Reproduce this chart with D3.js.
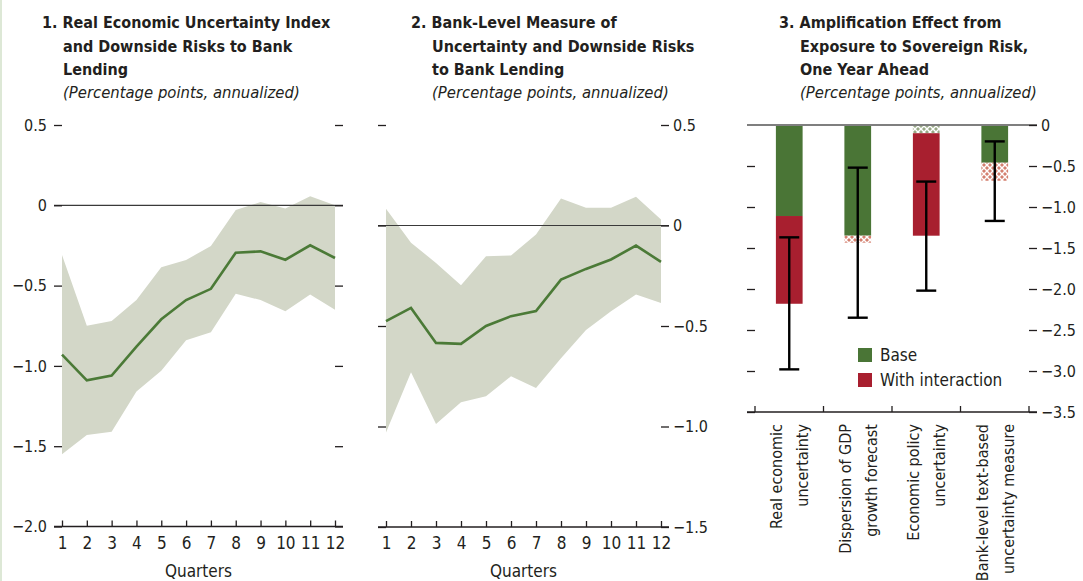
<!DOCTYPE html>
<html lang="en">
  <head>
    <meta charset="UTF-8" />
    <title>Uncertainty and bank lending</title>
    <style>
      body { margin: 0; background: #fff; }
      svg text { font-family: "Liberation Sans Narrow", "DejaVu Sans Condensed", sans-serif; fill: #231f20; }
      .title { font-weight: bold; font-size: 16px; }
      .sub { font-style: italic; font-size: 16.5px; }
      .tick text { font-size: 16px; }
      .xax .tick text { font-size: 17px; }
      .tick line { stroke: #231f20; stroke-width: 1.3; }
    </style>
  </head>
  <body>
    <svg id="chart" width="1083" height="581"></svg>
  </body>
</html>

<script src="https://cdnjs.cloudflare.com/ajax/libs/d3/7.8.5/d3.min.js"></script>

<script>
  // quarters after the shock
  const quarters = [1, 2, 3, 4, 5, 6, 7, 8, 9, 10, 11, 12];

  // panel 1: real economic uncertainty index
  const p1Line = [-0.93, -1.09, -1.06, -0.88, -0.71, -0.59, -0.52, -0.295, -0.287, -0.339, -0.249, -0.328];
  const p1Upper = [-0.31, -0.75, -0.72, -0.59, -0.385, -0.34, -0.254, -0.03, 0.02, -0.02, 0.056, 0.0];
  const p1Lower = [-1.55, -1.43, -1.41, -1.16, -1.03, -0.84, -0.79, -0.55, -0.59, -0.66, -0.555, -0.65];
  const p1Ticks = [0.5, 0, -0.5, -1.0, -1.5, -2.0];

  // panel 2: bank-level measure of uncertainty
  const p2Line = [-0.476, -0.41, -0.584, -0.589, -0.5, -0.451, -0.426, -0.269, -0.216, -0.169, -0.1, -0.181];
  const p2Upper = [0.083, -0.086, -0.186, -0.297, -0.153, -0.149, -0.045, 0.134, 0.088, 0.088, 0.143, 0.03];
  const p2Lower = [-1.03, -0.73, -0.987, -0.879, -0.849, -0.75, -0.808, -0.66, -0.52, -0.426, -0.343, -0.385];
  const p2Ticks = [0.5, 0, -0.5, -1.0, -1.5];

  // panel 3: amplification effect
  const measures = [
    ["Real economic", "uncertainty"],
    ["Dispersion of GDP", "growth forecast"],
    ["Economic policy", "uncertainty"],
    ["Bank-level text-based", "uncertainty measure"],
  ];
  const baseVals = [-1.11, -1.35, -0.1, -0.46];
  const interactionVals = [-2.18, -1.435, -1.35, -0.68];
  const baseSignif = [true, true, false, true];
  const interactionSignif = [true, false, true, false];
  const errLow = [-2.98, -2.35, -2.02, -1.17];
  const errHigh = [-1.37, -0.52, -0.69, -0.2];
  const p3Ticks = [0, -0.5, -1.0, -1.5, -2.0, -2.5, -3.0, -3.5];

  const GREEN = "#4a7536",
    RED = "#a81f2f",
    BAND = "#d3d7c8",
    LINE = "#4b7a37";

  const svg = d3.select("#chart");
  const fmt = (d) => (d === 0 ? "0" : d3.format(".1f")(d));

  // faint page border on the left
  svg.append("rect").attr("x", 0).attr("y", 0).attr("width", 2).attr("height", 581).attr("fill", "#dde8d6");

  // hatch patterns for the non-significant parts
  const defs = svg.append("defs");
  function hatch(id, color) {
    const p = defs
      .append("pattern")
      .attr("id", id)
      .attr("patternUnits", "userSpaceOnUse")
      .attr("width", 6)
      .attr("height", 6);
    p.append("rect").attr("width", 6).attr("height", 6).attr("fill", color);
    p.append("path")
      .attr("d", "M-1,-1 L7,7 M7,-1 L-1,7")
      .attr("stroke", "#fff")
      .attr("stroke-width", 1.4);
  }
  hatch("hatchRed", "#d4806f");
  hatch("hatchGreen", "#98a986");

  function title(x, indent, lines, sub) {
    const g = svg.append("g");
    lines.forEach((t, i) => {
      g.append("text")
        .attr("class", "title")
        .attr("x", i === 0 ? x : x + indent)
        .attr("y", 28 + i * 23.5)
        .text(t);
    });
    g.append("text").attr("class", "sub").attr("x", x + indent).attr("y", 98).text(sub);
  }

  title(42, 21, ["1. Real Economic Uncertainty Index", "and Downside Risks to Bank", "Lending"], "(Percentage points, annualized)");
  title(411, 21, ["2. Bank-Level Measure of", "Uncertainty and Downside Risks", "to Bank Lending"], "(Percentage points, annualized)");
  title(779, 21, ["3. Amplification Effect from", "Exposure to Sovereign Risk,", "One Year Ahead"], "(Percentage points, annualized)");

  // line panels
  function linePanel({ xRange, yDomain, yRange, ticks, line, upper, lower, labelsRight }) {
    const x = d3.scaleLinear().domain([1, 12]).range(xRange);
    const y = d3.scaleLinear().domain(yDomain).range(yRange);
    const g = svg.append("g");

    const rows = quarters.map((q, i) => ({ q, v: line[i], hi: upper[i], lo: lower[i] }));

    g.append("path")
      .datum(rows)
      .attr("fill", BAND)
      .attr("d", d3.area().x((d) => x(d.q)).y0((d) => y(d.lo)).y1((d) => y(d.hi)));

    // zero line
    g.append("line")
      .attr("x1", x.range()[0] - 8)
      .attr("x2", x.range()[1] + 8)
      .attr("y1", y(0))
      .attr("y2", y(0))
      .attr("stroke", "#3a3a3a")
      .attr("stroke-width", 1.2);

    g.append("path")
      .datum(rows)
      .attr("fill", "none")
      .attr("stroke", LINE)
      .attr("stroke-width", 2.6)
      .attr("d", d3.line().x((d) => x(d.q)).y((d) => y(d.v)));

    const left = d3.axisLeft(y).tickValues(ticks).tickSize(8).tickPadding(7).tickFormat(labelsRight ? "" : fmt);
    const right = d3.axisRight(y).tickValues(ticks).tickSize(8).tickPadding(4).tickFormat(labelsRight ? fmt : "");

    g.append("g").attr("transform", `translate(${x.range()[0]},0)`).call(left).call((a) => a.select(".domain").remove());
    g.append("g").attr("transform", `translate(${x.range()[1]},0)`).call(right).call((a) => a.select(".domain").remove());

    const bottom = d3.axisBottom(x).tickValues(quarters).tickSizeInner(-6).tickSizeOuter(0).tickPadding(10);
    const b = g.append("g").attr("class", "xax").attr("transform", `translate(0,${y(yDomain[0])})`).call(bottom);
    b.select(".domain").remove();
    b.append("line")
      .attr("x1", x.range()[0] - 8)
      .attr("x2", x.range()[1] + 8)
      .attr("stroke", "#231f20")
      .attr("stroke-width", 1.3);

    g.append("text")
      .attr("x", (x.range()[0] + x.range()[1]) / 2)
      .attr("y", 577)
      .attr("text-anchor", "middle")
      .style("font-size", "17px")
      .text("Quarters");
  }

  linePanel({
    xRange: [62, 335],
    yDomain: [-2, 0.5],
    yRange: [526.5, 125],
    ticks: p1Ticks,
    line: p1Line,
    upper: p1Upper,
    lower: p1Lower,
    labelsRight: false,
  });

  linePanel({
    xRange: [386, 661],
    yDomain: [-1.5, 0.5],
    yRange: [527, 125],
    ticks: p2Ticks,
    line: p2Line,
    upper: p2Upper,
    lower: p2Lower,
    labelsRight: true,
  });

  // bar panel
  (function () {
    const idx = measures.map((d, i) => i);
    const x = d3.scaleBand().domain(idx).range([755, 1029]).padding(0);
    const y = d3.scaleLinear().domain([-3.5, 0]).range([412, 125]);
    const g = svg.append("g");
    const bw = x.bandwidth() * 0.39;
    const bx = (i) => x(i) + (x.bandwidth() - bw) / 2;
    const cx = (i) => x(i) + x.bandwidth() / 2;

    g.selectAll(".base")
      .data(idx)
      .join("rect")
      .attr("x", bx)
      .attr("width", bw)
      .attr("y", (i) => y(0))
      .attr("height", (i) => y(baseVals[i]) - y(0))
      .attr("fill", (i) => (baseSignif[i] ? GREEN : "url(#hatchGreen)"));

    g.selectAll(".inter")
      .data(idx)
      .join("rect")
      .attr("x", bx)
      .attr("width", bw)
      .attr("y", (i) => y(baseVals[i]))
      .attr("height", (i) => y(interactionVals[i]) - y(baseVals[i]))
      .attr("fill", (i) => (interactionSignif[i] ? RED : "url(#hatchRed)"));

    // zero line
    g.append("line")
      .attr("x1", x.range()[0] - 8)
      .attr("x2", x.range()[1] + 8)
      .attr("y1", y(0))
      .attr("y2", y(0))
      .attr("stroke", "#7f7f7f")
      .attr("stroke-width", 2);

    // error bars
    const eb = g.selectAll(".err").data(idx).join("g");
    eb.append("line")
      .attr("x1", cx)
      .attr("x2", cx)
      .attr("y1", (i) => y(errHigh[i]))
      .attr("y2", (i) => y(errLow[i]))
      .attr("stroke", "#000")
      .attr("stroke-width", 2.4);
    [errHigh, errLow].forEach((arr) => {
      eb.append("line")
        .attr("x1", (i) => cx(i) - 10)
        .attr("x2", (i) => cx(i) + 10)
        .attr("y1", (i) => y(arr[i]))
        .attr("y2", (i) => y(arr[i]))
        .attr("stroke", "#000")
        .attr("stroke-width", 2.4);
    });

    const left = d3.axisLeft(y).tickValues(p3Ticks.slice(1)).tickSize(8).tickFormat("");
    const right = d3.axisRight(y).tickValues(p3Ticks).tickSize(8).tickPadding(4).tickFormat(fmt);
    g.append("g").attr("transform", `translate(${x.range()[0]},0)`).call(left).call((a) => a.select(".domain").remove());
    g.append("g").attr("transform", `translate(${x.range()[1]},0)`).call(right).call((a) => a.select(".domain").remove());

    // bottom axis with ticks at band edges
    const edges = d3.scaleLinear().domain([0, measures.length]).range(x.range());
    const b = g.append("g").attr("transform", `translate(0,${y(-3.5)})`);
    b.append("line")
      .attr("x1", x.range()[0] - 8)
      .attr("x2", x.range()[1] + 8)
      .attr("stroke", "#231f20")
      .attr("stroke-width", 1.3);
    b.selectAll(".edge")
      .data(d3.range(measures.length + 1))
      .join("line")
      .attr("x1", (d) => edges(d))
      .attr("x2", (d) => edges(d))
      .attr("y1", 0)
      .attr("y2", -6)
      .attr("stroke", "#231f20")
      .attr("stroke-width", 1.3);

    const lab = g
      .selectAll(".cat")
      .data(idx)
      .join("text")
      .attr("transform", (i) => `translate(${cx(i)},424) rotate(-90)`)
      .attr("text-anchor", "end")
      .style("font-size", "16px");
    lab.append("tspan").attr("x", 0).attr("y", -7).text((i) => measures[i][0]);
    lab.append("tspan").attr("x", 0).attr("y", 19).text((i) => measures[i][1]);

    // legend
    const legend = [
      ["Base", GREEN],
      ["With interaction", RED],
    ];
    const lg = g.append("g").attr("transform", "translate(858,348)");
    legend.forEach(([t, c], i) => {
      lg.append("rect").attr("x", 0).attr("y", i * 25).attr("width", 14).attr("height", 14).attr("fill", c);
      lg.append("text").attr("x", 22).attr("y", i * 25 + 13).style("font-size", "17px").text(t);
    });
  })();
</script>
